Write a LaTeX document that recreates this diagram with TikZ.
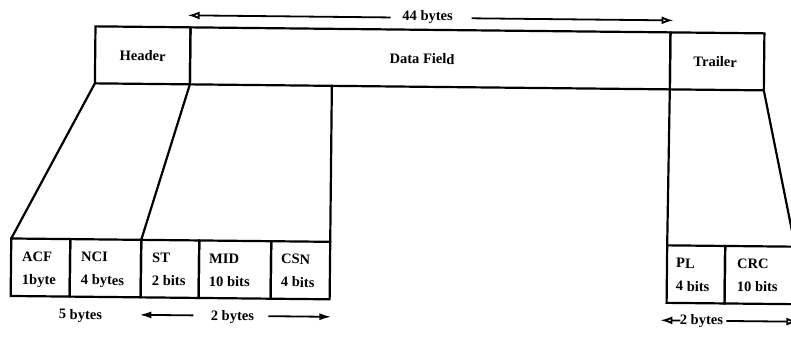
\documentclass[tikz,border=0pt]{standalone}
\usepackage{fontspec}
\setmainfont{Liberation Serif}
\usetikzlibrary{arrows.meta}
\begin{document}
\begin{tikzpicture}[x=1pt,y=-1pt,
  box/.style={draw, line width=2.2pt, inner sep=0pt, outer sep=0pt, anchor=north west, minimum height=57pt},
  lowbox/.style={box, minimum height=57.5pt},
  lbl/.style={font=\fontsize{14.5}{16}\selectfont\bfseries, inner sep=0pt},
  conn/.style={line width=2.2pt},
  dimline/.style={line width=1.8pt},
  openhead/.style={-{Latex[open,length=12pt,width=8pt]}},
  fullhead/.style={-{Latex[length=12pt,width=7pt]}}
]
\useasboundingbox (0,0) rectangle (791,337);
\clip (0,0) rectangle (791,337);
\begin{scope}[rotate around={-0.6:(395,168)}, transform shape]
% top row
\node[box, minimum width=95pt] (header) at (94,29.5) {};
\node[box, minimum width=480pt] (data) at (189,29.5) {};
\node[box, minimum width=94pt] (trailer) at (669,29.5) {};
\node[lbl, anchor=base] (theader) at (141.5,63.5) {Header};
\node[lbl, anchor=base] (tdata) at (421,63.5) {Data Field};
\node[lbl, anchor=base] (ttrailer) at (714,63.5) {Trailer};
% bottom row
\node[lowbox, minimum width=59pt] (acf) at (12,242.5) {};
\node[lowbox, minimum width=71pt] (nci) at (71,242.5) {};
\node[lowbox, minimum width=58pt] (st) at (142,242.5) {};
\node[lowbox, minimum width=72pt] (mid) at (200,242.5) {};
\node[lowbox, minimum width=59pt] (csn) at (272,242.5) {};
\node[lowbox, minimum width=58pt] (pl) at (668,242.5) {};
\node[lowbox, minimum width=70pt] (crc) at (726,242.5) {};
% box texts
\node[lbl, anchor=base west] (tacf) at (23,265) {ACF};
\node[lbl, anchor=base west] (tacfb) at (23,288) {1byte};
\node[lbl, anchor=base west] (tnci) at (82,265) {NCI};
\node[lbl, anchor=base west] (tncib) at (82,288) {4 bytes};
\node[lbl, anchor=base west] (tst) at (153,265) {ST};
\node[lbl, anchor=base west] (tstb) at (153,288) {2 bits};
\node[lbl, anchor=base west] (tmid) at (210,265) {MID};
\node[lbl, anchor=base west] (tmidb) at (210,288) {10 bits};
\node[lbl, anchor=base west] (tcsn) at (282,265) {CSN};
\node[lbl, anchor=base west] (tcsnb) at (282,288) {4 bits};
\node[lbl, anchor=base west] (tpl) at (677,265) {PL};
\node[lbl, anchor=base west] (tplb) at (677,288) {4 bits};
\node[lbl, anchor=base west] (tcrc) at (738,265) {CRC};
\node[lbl, anchor=base west] (tcrcb) at (738,288) {10 bits};
% connectors
\coordinate (dsplit) at (331,86.5);
\draw[conn] (header.south west) -- (acf.north west);
\draw[conn] (header.south east) -- (st.north west);
\draw[conn] (dsplit) -- (csn.north east);
\draw[conn] (trailer.south west) -- (pl.north west);
\draw[conn] (trailer.south east) -- (crc.north east);
% 44 bytes
\node[lbl, anchor=base] (t44) at (426,20) {44 bytes};
\coordinate (a44l) at (186,17.5);
\coordinate (a44r) at (672,17.5);
\coordinate (g44l) at (389,17.5);
\coordinate (g44r) at (470,17.5);
\draw[dimline, openhead] (g44l) -- (a44l);
\draw[dimline, openhead] (g44r) -- (a44r);
% bottom left labels
\node[lbl, anchor=base] (t5) at (82,322.5) {5 bytes};
\node[lbl, anchor=base] (t2a) at (234,322) {2 bytes};
\coordinate (b2l) at (141,317.5);
\coordinate (b2lg) at (195,317.5);
\coordinate (b2rg) at (270,317.5);
\coordinate (b2r) at (333,317.5);
\draw[dimline, fullhead] (b2lg) -- (b2l);
\draw[dimline, fullhead] (b2rg) -- (b2r);
% bottom right label
\node[lbl, anchor=base] (t2b) at (703,321.5) {2 bytes};
\coordinate (c2l) at (662,317.5);
\coordinate (c2lg) at (682,317.5);
\coordinate (c2rg) at (728,317.5);
\coordinate (c2r) at (800,317.5);
\draw[dimline, openhead] (c2lg) -- (c2l);
\draw[dimline, openhead] (c2rg) -- (c2r);
\end{scope}
\end{tikzpicture}
\end{document}
